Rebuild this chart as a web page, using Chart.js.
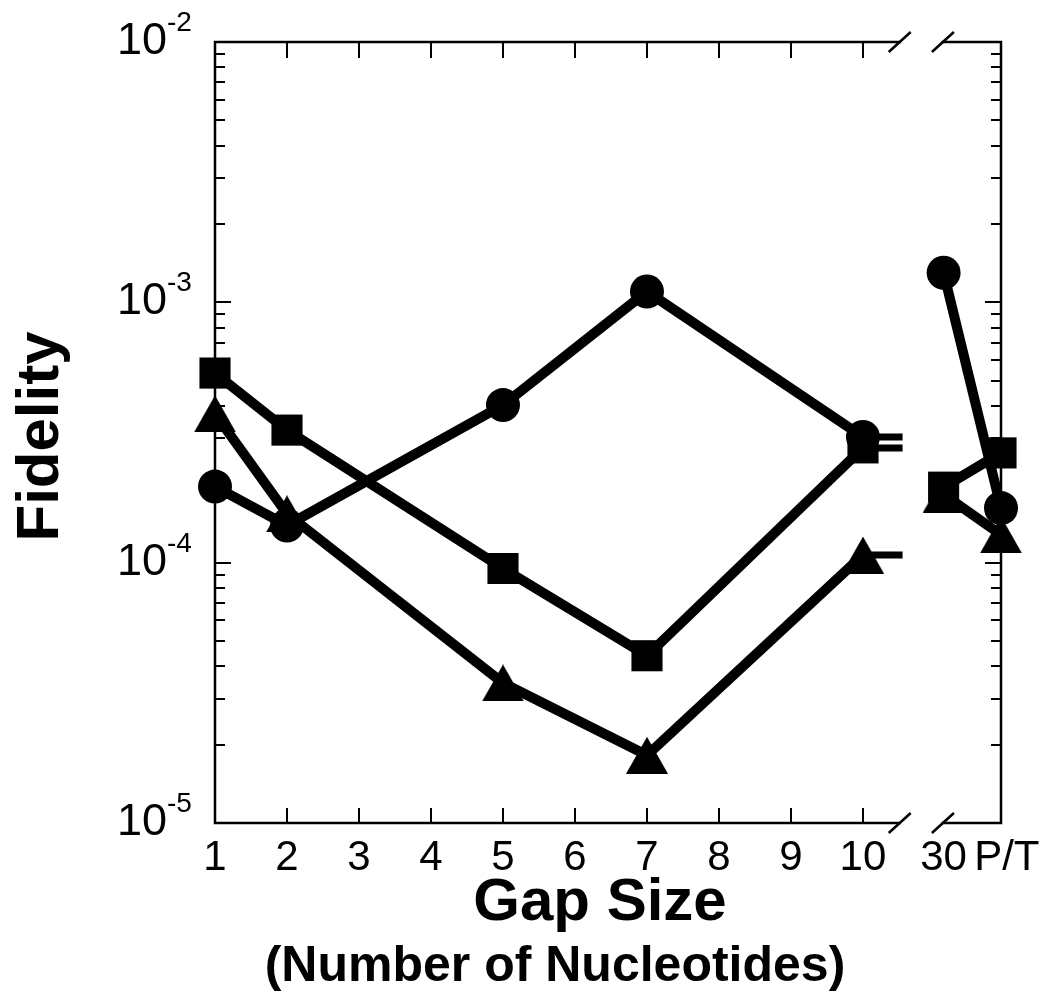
<!DOCTYPE html>
<html>
<head>
<meta charset="utf-8">
<script src="https://cdn.jsdelivr.net/npm/chart.js@4.4.1/dist/chart.umd.min.js"></script>
<style>
html, body { margin: 0; padding: 0; background: #fff; }
#wrap { width: 1050px; height: 1006px; }
</style>
</head>
<body>
<div id="wrap"><canvas id="fidelityChart" width="1050" height="1006"></canvas></div>
<script>
// data
const gapSizes = ['1', '2', '5', '7', '10', '30', 'P/T'];
const circleFidelity = [1.96e-4, 1.39e-4, 4.03e-4, 1.10e-3, 3.04e-4, 1.30e-3, 1.62e-4];
const squareFidelity = [5.35e-4, 3.23e-4, 9.5e-5, 4.39e-5, 2.76e-4, 1.95e-4, 2.64e-4];
const triangleFidelity = [3.73e-4, 1.54e-4, 3.45e-5, 1.82e-5, 1.07e-4, 1.83e-4, 1.28e-4];
const xTickValues = [1, 2, 3, 4, 5, 6, 7, 8, 9, 10];
const yExponents = [-5, -4, -3, -2];

// broken axis: where the categories right of the break sit on the x scale
const breakStart = 10.51;
const breakEnd = 11.11;
const stubEnd = 10.55;
const afterBreak = { '30': 11.12, 'P/T': 11.917 };

const FONT = '"Liberation Sans", Arial, sans-serif';

function gapToX(g) {
    return afterBreak[g] !== undefined ? afterBreak[g] : Number(g);
}

function buildPoints(vals) {
    const pts = [];
    gapSizes.forEach((g, i) => {
        if (g === '30') pts.push({ x: (breakStart + breakEnd) / 2, y: null });
        pts.push({ x: gapToX(g), y: vals[i] });
    });
    return pts;
}

function stubPoints(vals) {
    const i = gapSizes.indexOf('10');
    return [{ x: 10, y: vals[i] }, { x: stubEnd, y: vals[i] }];
}

// triangle centred on its bounding box, like the original plot
function makeTriangle(w, h) {
    const c = document.createElement('canvas');
    c.width = w;
    c.height = h;
    const g = c.getContext('2d');
    g.fillStyle = '#000';
    g.beginPath();
    g.moveTo(w / 2, 0);
    g.lineTo(w, h);
    g.lineTo(0, h);
    g.closePath();
    g.fill();
    return c;
}
const triangleMark = makeTriangle(42, 37);

function series(vals, style, radius) {
    return {
        data: buildPoints(vals),
        borderColor: '#000',
        backgroundColor: '#000',
        borderWidth: 10,
        pointStyle: style,
        pointRadius: radius,
        pointBorderWidth: 0,
        pointBackgroundColor: '#000',
        spanGaps: false,
        clip: false
    };
}

function stub(vals) {
    return {
        data: stubPoints(vals),
        borderColor: '#000',
        borderWidth: 7,
        pointRadius: 0,
        clip: false
    };
}

const framePlugin = {
    id: 'frame',
    beforeDatasetsDraw(chart) {
        const ctx = chart.ctx;
        const xs = chart.scales.x;
        const ys = chart.scales.y;
        const a = chart.chartArea;
        const bx0 = xs.getPixelForValue(breakStart);
        const bx1 = xs.getPixelForValue(breakEnd);
        ctx.save();
        ctx.strokeStyle = '#000';
        ctx.lineCap = 'square';
        ctx.lineWidth = 2.5;
        ctx.beginPath();
        [a.top, a.bottom].forEach(y => {
            ctx.moveTo(a.left, y); ctx.lineTo(bx0, y);
            ctx.moveTo(bx1, y); ctx.lineTo(a.right, y);
        });
        ctx.moveTo(a.left, a.top); ctx.lineTo(a.left, a.bottom);
        ctx.moveTo(a.right, a.top); ctx.lineTo(a.right, a.bottom);
        ctx.stroke();
        // break marks
        ctx.lineCap = 'butt';
        ctx.beginPath();
        [a.top, a.bottom].forEach(y => {
            [bx0, bx1].forEach(x => {
                ctx.moveTo(x - 11, y + 10);
                ctx.lineTo(x + 11, y - 10);
            });
        });
        ctx.stroke();
        // x ticks, inward
        ctx.lineWidth = 2;
        ctx.beginPath();
        xTickValues.slice(1).forEach(v => {
            const px = Math.round(xs.getPixelForValue(v));
            ctx.moveTo(px, a.bottom); ctx.lineTo(px, a.bottom - 15);
            ctx.moveTo(px, a.top); ctx.lineTo(px, a.top + 16);
        });
        // y ticks, inward on both sides
        yExponents.forEach((e, i) => {
            const major = Math.round(ys.getPixelForValue(Math.pow(10, e)));
            ctx.moveTo(a.left, major); ctx.lineTo(a.left + 16, major);
            ctx.moveTo(a.right, major); ctx.lineTo(a.right - 16, major);
            if (i === yExponents.length - 1) return;
            for (let k = 2; k <= 9; k++) {
                const py = Math.round(ys.getPixelForValue(k * Math.pow(10, e)));
                ctx.moveTo(a.left, py); ctx.lineTo(a.left + 10, py);
                ctx.moveTo(a.right, py); ctx.lineTo(a.right - 10, py);
            }
        });
        ctx.stroke();
        ctx.restore();
    },
    afterDraw(chart) {
        const ctx = chart.ctx;
        const ys = chart.scales.y;
        const a = chart.chartArea;
        ctx.save();
        ctx.fillStyle = '#000';
        // y tick labels with superscript exponents
        yExponents.forEach(e => {
            const py = ys.getPixelForValue(Math.pow(10, e));
            ctx.font = '45px ' + FONT;
            ctx.textAlign = 'right';
            ctx.textBaseline = 'alphabetic';
            ctx.fillText('10', 167, py + 12);
            ctx.font = '28px ' + FONT;
            ctx.textAlign = 'left';
            ctx.fillText(String(e), 167, py - 11);
        });
        // axis titles
        ctx.textAlign = 'center';
        ctx.font = 'bold 60px ' + FONT;
        ctx.fillText('Gap Size', 600, 920);
        ctx.font = 'bold 50px ' + FONT;
        ctx.fillText('(Number of Nucleotides)', 555, 981);
        ctx.translate(58, (a.top + a.bottom) / 2 + 4);
        ctx.rotate(-Math.PI / 2);
        ctx.font = 'bold 60px ' + FONT;
        ctx.fillText('Fidelity', 0, 0);
        ctx.restore();
    }
};

const ctx = document.getElementById('fidelityChart').getContext('2d');
const fidelityChart = new Chart(ctx, {
    type: 'line',
    data: {
        datasets: [
            series(circleFidelity, 'circle', 17),
            series(squareFidelity, 'rect', 22),
            series(triangleFidelity, triangleMark, 20),
            stub(circleFidelity),
            stub(squareFidelity),
            stub(triangleFidelity)
        ]
    },
    options: {
        responsive: false,
        animation: false,
        events: [],
        layout: { padding: { left: 0, top: 42, right: 49, bottom: 0 } },
        plugins: { legend: { display: false }, tooltip: { enabled: false } },
        scales: {
            x: {
                type: 'linear',
                min: 1,
                max: afterBreak['P/T'],
                grid: { display: false, drawTicks: false },
                border: { display: false },
                afterBuildTicks(scale) {
                    const vals = xTickValues.concat([afterBreak['30'], afterBreak['P/T']]);
                    scale.ticks = vals.map(v => ({ value: v }));
                },
                ticks: {
                    autoSkip: false,
                    maxRotation: 0,
                    padding: 10,
                    color: '#000',
                    font: { family: FONT, size: 42 },
                    callback(value) {
                        const hit = Object.keys(afterBreak).find(k => afterBreak[k] === value);
                        if (hit === 'P/T') return ' P/T';
                        return hit !== undefined ? hit : String(value);
                    }
                },
                afterFit(scale) { scale.height = 1006 - 823; }
            },
            y: {
                type: 'logarithmic',
                min: 1e-5,
                max: 1e-2,
                grid: { display: false, drawTicks: false },
                border: { display: false },
                ticks: { display: false },
                afterFit(scale) { scale.width = 215; }
            }
        }
    },
    plugins: [framePlugin]
});
</script>
</body>
</html>
